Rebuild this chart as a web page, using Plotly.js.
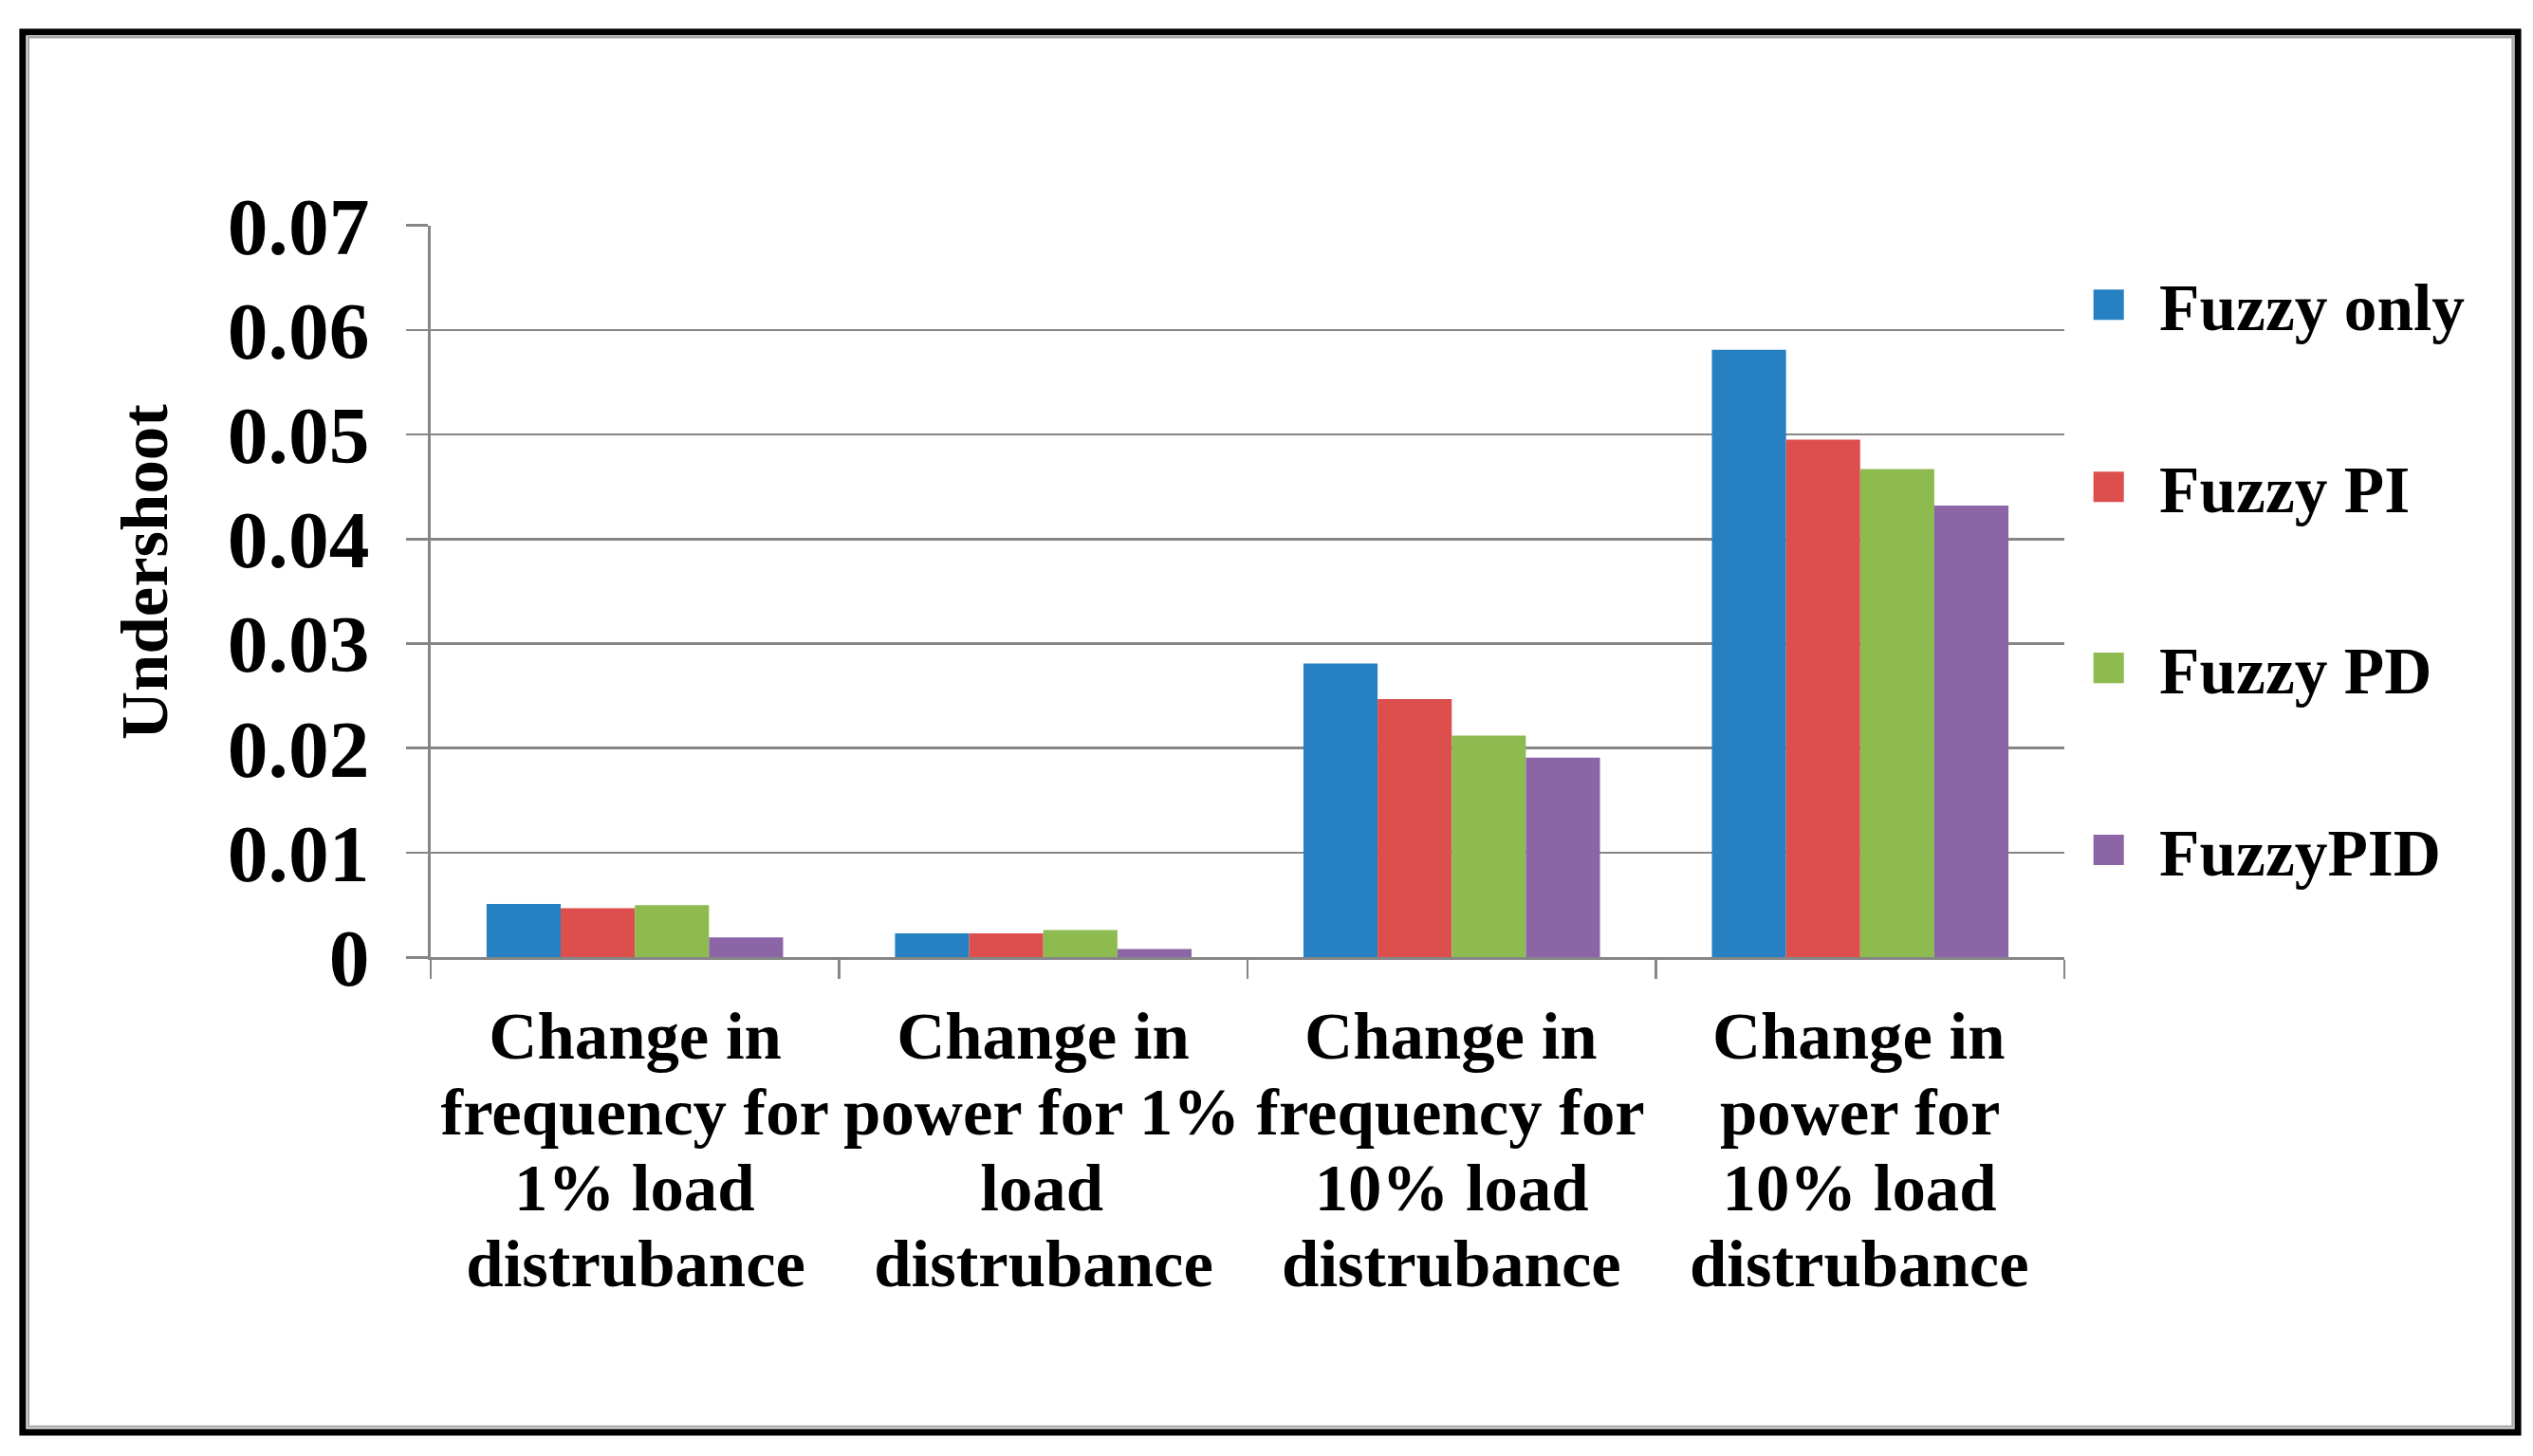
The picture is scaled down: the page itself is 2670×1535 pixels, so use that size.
<!DOCTYPE html>
<html><head><meta charset="utf-8">
<script src="https://cdn.plot.ly/plotly-3.0.1.min.js"></script>
<style>
html,body{margin:0;padding:0;background:#fff;overflow:hidden;}
#wrap{width:2670px;height:1535px;overflow:hidden;position:relative;background:#fff;}
#chart{width:1000px;height:575px;transform:scale(2.67);transform-origin:0 0;}
</style></head><body><div id="wrap"><div id="chart"></div></div>
<script>
// ---------------- data ----------------
const categoryLines = [
  ["Change in", "frequency for", "1% load", "distrubance"],
  ["Change in", "power for 1%", "load", "distrubance"],
  ["Change in", "frequency for", "10% load", "distrubance"],
  ["Change in", "power for", "10% load", "distrubance"]
];
const categories = categoryLines.map(l => l.join(" "));
const seriesNames = ["Fuzzy only", "Fuzzy PI", "Fuzzy PD", "FuzzyPID"];
const fuzzyOnly = [0.0051, 0.0023, 0.0281, 0.0581];
const fuzzyPI   = [0.0047, 0.0023, 0.0247, 0.0495];
const fuzzyPD   = [0.0050, 0.0026, 0.0212, 0.0467];
const fuzzyPID  = [0.0019, 0.0008, 0.0191, 0.0432];
const seriesValues = [fuzzyOnly, fuzzyPI, fuzzyPD, fuzzyPID];
const seriesColors = ["#2680c2", "#dc4f4c", "#8dbb4f", "#8b65a6"];
const yTickVals = [0, 0.01, 0.02, 0.03, 0.04, 0.05, 0.06, 0.07];
const yTickText = ["0", "0.01", "0.02", "0.03", "0.04", "0.05", "0.06", "0.07"];
const yTitle = "Undershoot";

// ---------------- geometry (base units, page scaled by K) ----------------
const K = 2.67, W = 1000, H = 575;
const ml = 453 / K, mr = W - 2175 / K, mt = 238 / K, mb = H - 1010 / K;
const pw = W - ml - mr, ph = H - mt - mb;
const fx = X => (X / K - ml) / pw;          // original px -> paper x
const fy = Y => (H - mb - Y / K) / ph;      // original px -> paper y
const FONT = "Liberation Serif, Times New Roman, serif";
const GRAY = "#868686";

const legendYs = [322, 514, 705, 897];
const traces = seriesNames.map((name, i) => ({
  type: "bar",
  name: name,
  x: categories,
  y: seriesValues[i],
  marker: { color: seriesColors[i], line: { width: 0 } },
  legend: i === 0 ? "legend" : "legend" + (i + 1),
  hoverinfo: "x+y+name"
}));

const layout = {
  width: W, height: H,
  margin: { l: ml, r: mr, t: mt, b: mb, pad: 0 },
  paper_bgcolor: "#ffffff",
  plot_bgcolor: "#ffffff",
  barmode: "group",
  bargap: 0.274,
  bargroupgap: 0,
  font: { family: FONT, color: "#000000", weight: "bold" },
  xaxis: {
    type: "category",
    range: [-0.5, 3.5],
    showticklabels: false,
    tickson: "boundaries",
    ticks: "outside",
    ticklen: 20 / K,
    tickwidth: 3 / K,
    tickcolor: GRAY,
    showline: true,
    linecolor: GRAY,
    linewidth: 3.5 / K,
    showgrid: false,
    zeroline: false,
    fixedrange: true
  },
  yaxis: {
    range: [0, 0.0700001],
    tickvals: yTickVals,
    ticktext: yTickText,
    ticks: "outside",
    ticklen: 23 / K,
    tickwidth: 3.5 / K,
    tickcolor: GRAY,
    ticklabelstandoff: 8,
    tickfont: { family: FONT, size: 32, color: "#000000", weight: "bold" },
    showline: true,
    linecolor: GRAY,
    linewidth: 3.5 / K,
    showgrid: true,
    gridcolor: GRAY,
    gridwidth: 3.5 / K,
    zeroline: false,
    fixedrange: true
  },
  annotations: [
    { xref: "paper", yref: "paper", x: fx(150), y: fy(603),
      xanchor: "center", yanchor: "middle", textangle: -90,
      text: yTitle, showarrow: false,
      font: { family: FONT, size: 26.5, color: "#000000", weight: "bold" } }
  ],
  shapes: [
    { type: "rect", xref: "paper", yref: "paper",
      x0: fx(23), x1: fx(2653), y0: fy(34), y1: fy(1511),
      line: { color: "#000000", width: 7 / K }, fillcolor: "rgba(0,0,0,0)", layer: "above" },
    { type: "rect", xref: "paper", yref: "paper",
      x0: fx(29), x1: fx(2647.5), y0: fy(39.5), y1: fy(1505),
      line: { color: "#a8a8a8", width: 2.5 / K }, fillcolor: "rgba(0,0,0,0)", layer: "above" }
  ],
  showlegend: true
};

// legends, one per series
seriesNames.forEach((n, i) => {
  const key = i === 0 ? "legend" : "legend" + (i + 1);
  layout[key] = {
    x: fx(2231 - 23.5 * K), xanchor: "left",
    y: fy(legendYs[i]), yanchor: "middle",
    bgcolor: "rgba(0,0,0,0)", borderwidth: 0,
    font: { family: FONT, size: 26, color: "#000000", weight: "bold" },
    itemclick: false, itemdoubleclick: false
  };
});

// category labels, one annotation per line
const lineYs = [1092, 1172, 1252, 1332];
categoryLines.forEach((lines, ci) => {
  lines.forEach((txt, li) => {
    layout.annotations.push({
      xref: "x", yref: "paper",
      x: categories[ci], y: fy(lineYs[li]),
      xanchor: "center", yanchor: "middle",
      text: txt, showarrow: false,
      font: { family: FONT, size: 26.5, color: "#000000", weight: "bold" }
    });
  });
});

Plotly.newPlot("chart", traces, layout, { displayModeBar: false, staticPlot: false, responsive: false });
</script>
</body></html>
